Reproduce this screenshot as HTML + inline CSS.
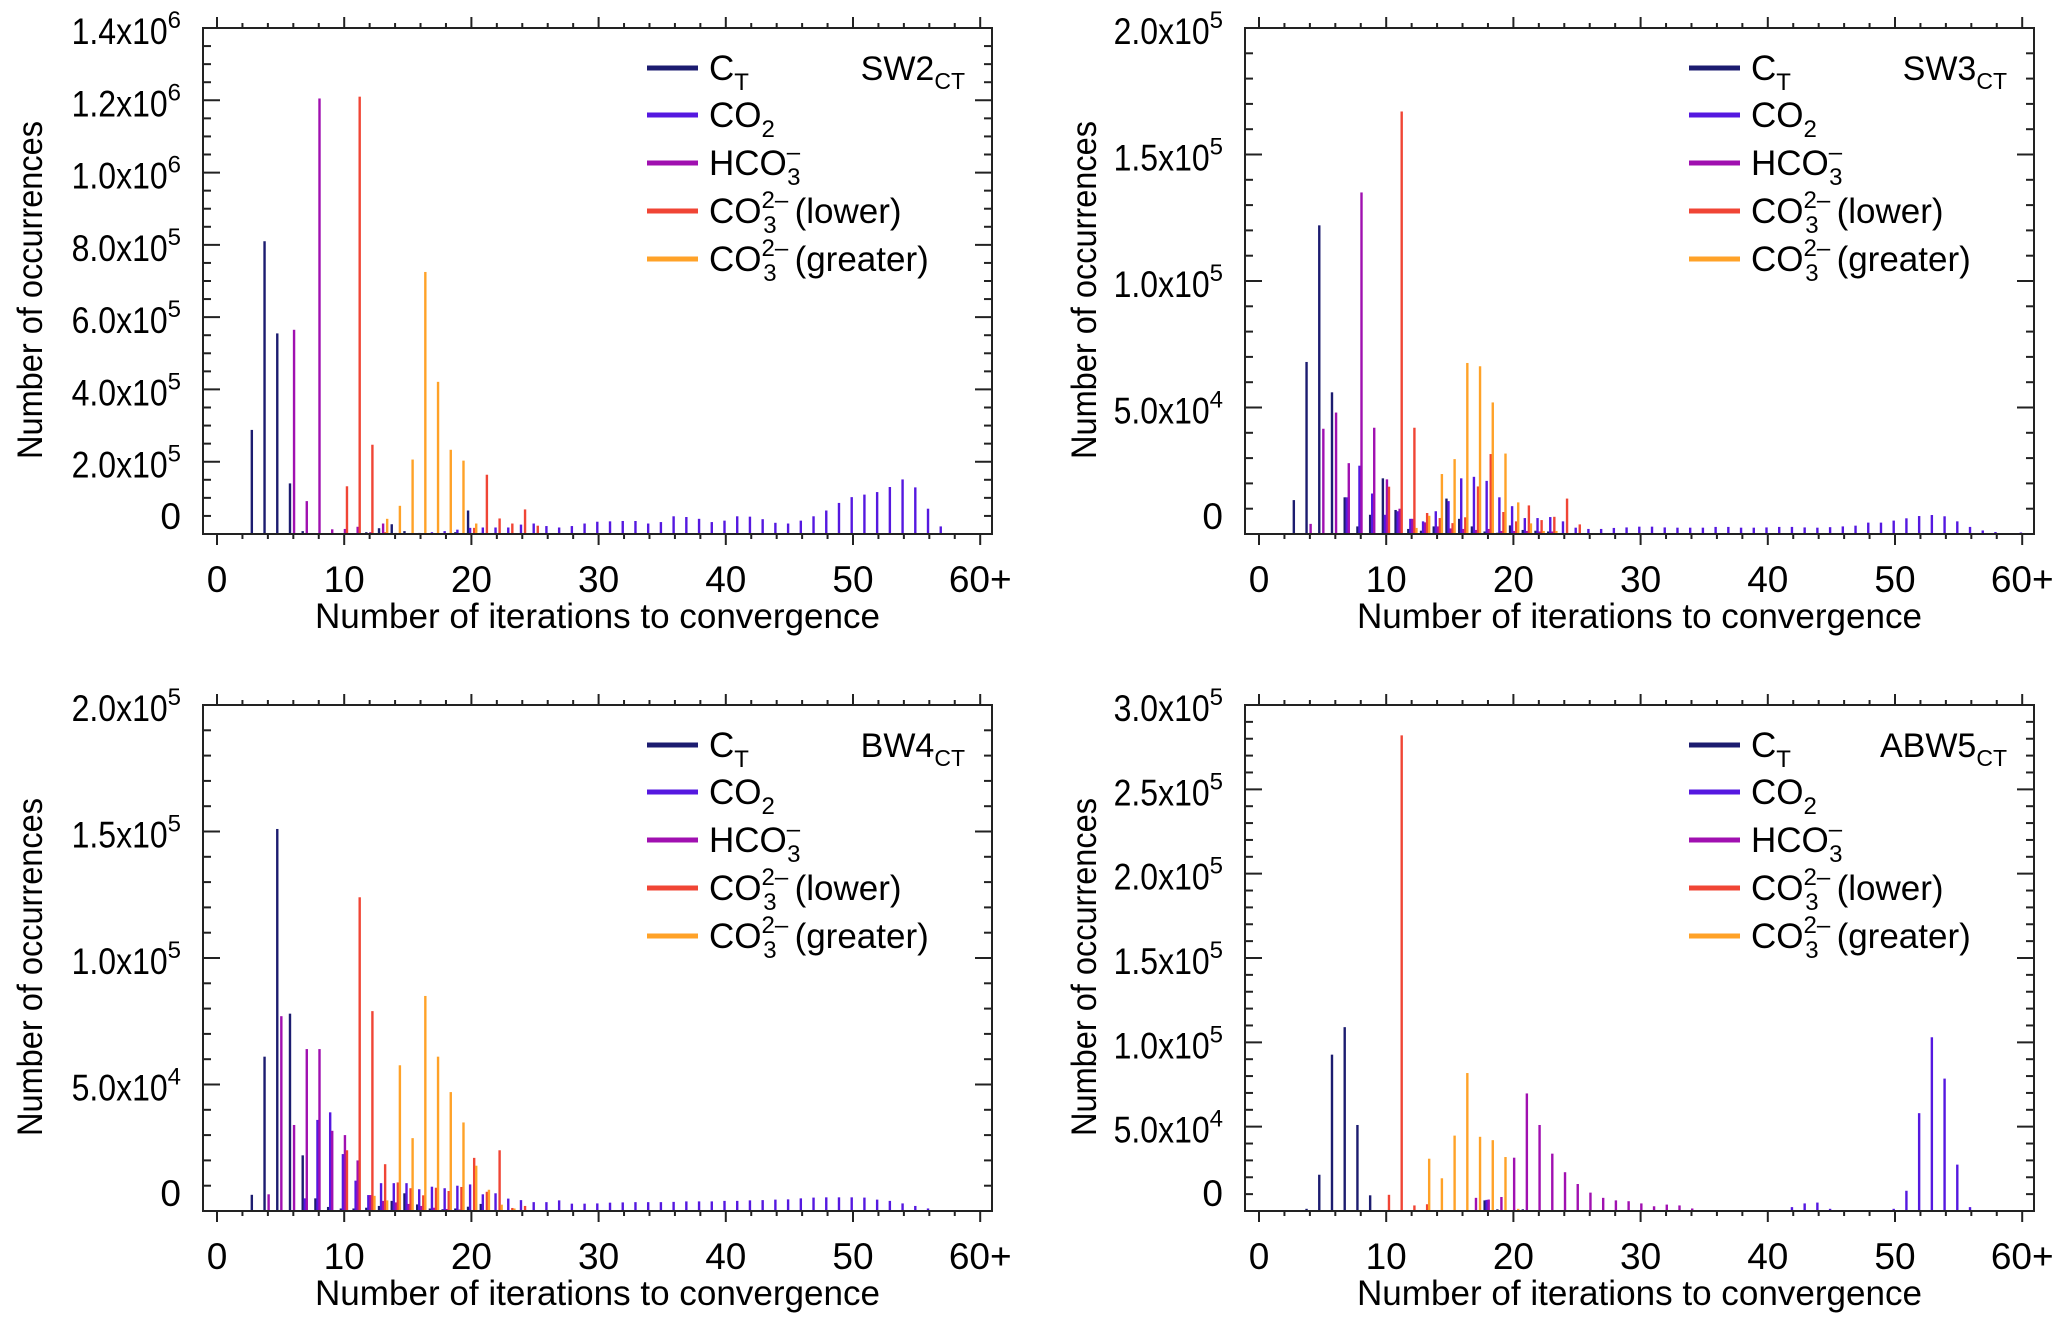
<!DOCTYPE html>
<html><head><meta charset="utf-8"><style>
html,body{margin:0;padding:0;background:#fff;}
svg{display:block;font-family:"Liberation Sans",Arial,sans-serif;}
</style></head><body>
<svg id="fig" width="2067" height="1329" viewBox="0 0 2067 1329" xmlns="http://www.w3.org/2000/svg"></svg>
<script>
// ---- data (values in thousands of occurrences, index = iterations) ----
const sw2_ct = [0,0,0,288,810, 555,140,8,0,0, 0,0,5,16,27, 8,0,0,0,5, 65,3];
const sw2_co2 = [0,0,0,0,0, 0,0,0,0,0, 0,0,0,0,0, 2,3,5,8,12, 17,18,18,18,26, 29,22,18,22,29, 34,35,36,36,29, 33,49,47,42,33, 37,49,48,41,31, 29,37,49,65,86, 102,109,116,130,151, 129,70,21,2];
const sw2_hco3 = [0,0,0,0,0, 0,565,91,1205,13, 14,20,5,29,3];
const sw2_red = [0,0,0,0,0, 0,0,0,0,0, 132,1210,247,5,0, 0,0,0,0,0, 17,164,43,29,68, 23];
const sw2_orange = [0,0,0,0,0, 0,0,0,0,0, 0,0,0,42,78, 206,725,421,233,203, 29];

const sw3_ct = [0,0,0,13.4,68, 122,56,14.5,3,7.6, 22,9.5,2,1.3,3, 14,6,3,1,0.5, 3.4,1.6,1.3,1];
const sw3_co2 = [0,0,0,0,0, 0,0,14.5,27,16, 7.6,9,6,5,9, 13,22,22.6,21,14.5, 11,6.3,6.3,6.7,5, 2.5,2,2,2.4,2.6, 2.9,2.9,2.6,2.5,2.5, 2.5,2.8,2.8,2.5,2.5, 2.6,2.8,2.8,2.6,2.5, 2.7,3,3.3,4.5,4.5, 5.3,6.2,7.1,7.5,7, 5,2.8,1.4,0.8,0.3, 0.6];
const sw3_hco3 = [0,0,0,0,4, 41.6,48,28,135,42, 21.6,10,6,4.6,3, 2.2,2,1.6,2,1.2, 1.2,1.2,1,1];
const sw3_red = [0,0,0,0,0, 0,0,0,0,0, 18.7,167,42,8.3,6.3, 4.3,6.6,18.8,31.6,8.7, 5,11.3,5.5,6.8,14, 3.8];
const sw3_orange = [0,0,0,0,0, 0,0,0,0,0, 0,0,2.4,7.2,23.7, 29.6,67.6,66.3,52,31.8, 12.5,4.2,1.2,1.2];

const bw4_ct = [0,0,0,6.4,61, 151,78,22,5,1.6, 1,1,1.3,2,4, 7,2.6,1,0.7,1, 1.7,2.8,0.2];
const bw4_co2 = [0,0,0,0,0, 0,0,5,36,39, 22.5,12,6.3,11,11, 11,8.6,9.6,9,10, 10.5,6.6,7,4.9,4.3, 3.5,3.5,4.2,2.9,2.9, 3,3.3,3.4,3.5,3.5, 3.5,3.6,3.8,3.8,3.8, 4,4,4.2,4.3,4.5, 4.6,5,5.3,5.4,5.4, 5.4,5.3,4.5,4,3, 2,1];
const bw4_hco3 = [0,0,0,0,6.6, 77,34,64,64,31.7, 30,20,6.3,4,3.4, 2.8,2,1.3,0.8,0.6, 0.4,0.4,0.4];
const bw4_red = [0,0,0,0,0, 0,0,0,0,0, 24,124,79,18.5,11.3, 9,6.2,9.2,7.9,9.5, 21,7.6,24,1.2,2];
const bw4_orange = [0,0,0,0,0, 0,0,0,0,0, 0,0,6,4.2,57.6, 28.8,85,61,47,35, 17.9,8.4,2.5,1];

const abw5_ct = [0,0,0,0,1.3, 21.5,92.7,109,51,9.3, 0,0,0,0,0, 0,0,0,6.3,1, 0,1];
const abw5_co2 = [0,0,0,0,0, 0,0,0,0,0, 0,0,0,0,0, 0,0,0,6.6,0, 0,0,0,0,0, 0,0,0,0,0, 0,0,0,0,0, 0,0,0,0,0, 0,0.5,2.3,4.5,5, 1.3,0,0,0,0, 1.3,12,58,103,78.5, 27.5,2.3];
const abw5_hco3 = [0,0,0,0,0, 0,0,0,0,0, 0,0,0,0,0, 0,0,7.8,6.8,8.3, 31.6,69.7,51,34,23, 16,10.9,7.8,6.3,5.8, 4.5,2.8,3.8,3.3,1.5];
const abw5_red = [0,0,0,0,0, 0,0,0,0,0, 9.6,282,3.3,4];
const abw5_orange = [0,0,0,0,0, 0,0,0,0,0, 0,0,0,31,19.4, 44.7,81.8,44,42,32, 1.3];

const xTickLabels = ["0","10","20","30","40","50","60+"];
const seriesNames = ["C_T","CO2","HCO3","CO3 lower","CO3 greater"];
const seriesColors = ["#1c1c70","#5518e0","#a010b0","#f04535","#ffa228"];
const seriesOffsets = [-0.27,-0.11,0.05,0.21,0.37];

const yLabels1 = [["0",""],["2.0x10","5"],["4.0x10","5"],["6.0x10","5"],["8.0x10","5"],["1.0x10","6"],["1.2x10","6"],["1.4x10","6"]];
const yLabels2 = [["0",""],["5.0x10","4"],["1.0x10","5"],["1.5x10","5"],["2.0x10","5"]];
const yLabels4 = [["0",""],["5.0x10","4"],["1.0x10","5"],["1.5x10","5"],["2.0x10","5"],["2.5x10","5"],["3.0x10","5"]];

const panels = [
  {name:"sw2", title:"SW2", L:203, T:28, ymax:1400, ymaj:200, ymin:50, ylab:yLabels1, series:[sw2_ct,sw2_co2,sw2_hco3,sw2_red,sw2_orange]},
  {name:"sw3", title:"SW3", L:1245, T:28, ymax:200, ymaj:50, ymin:10, ylab:yLabels2, series:[sw3_ct,sw3_co2,sw3_hco3,sw3_red,sw3_orange]},
  {name:"bw4", title:"BW4", L:203, T:705, ymax:200, ymaj:50, ymin:10, ylab:yLabels2, series:[bw4_ct,bw4_co2,bw4_hco3,bw4_red,bw4_orange]},
  {name:"abw5", title:"ABW5", L:1245, T:705, ymax:300, ymaj:50, ymin:10, ylab:yLabels4, series:[abw5_ct,abw5_co2,abw5_hco3,abw5_red,abw5_orange]}
];

const NS = "http://www.w3.org/2000/svg";
const svg = document.getElementById("fig");
function mk(tag, attrs, parent){
  const e = document.createElementNS(NS, tag);
  for (const k in attrs) e.setAttribute(k, attrs[k]);
  (parent||svg).appendChild(e);
  return e;
}
const W = 789, H = 506, AX = "#222";

panels.forEach(p => {
  const g = mk("g", {});
  
  
  const L = p.L, T = p.T, R = L + W, B = T + H;
  const xs = v => L + 14 + v * 12.72;
  const ys = v => B - v / p.ymax * H;

  p.series.forEach((arr, si) => {
    arr.forEach((v, n) => {
      if (v <= 0) return;
      const x = xs(n + seriesOffsets[si]);
      const r = mk("rect", {x:(x-1.1).toFixed(2), y:ys(v).toFixed(2), width:2.4, height:(B-ys(v)).toFixed(2), fill:seriesColors[si]}, g);
      
      
    });
  });

  const fr = mk("rect", {x:L, y:T, width:W, height:H, fill:"none", stroke:AX, "stroke-width":2}, g);
  
  

  for (let v = 0; v <= 60; v += 2) {
    const len = (v % 10 === 0) ? 11 : 5;
    mk("line", {x1:xs(v), x2:xs(v), y1:B, y2:B+len, stroke:AX, "stroke-width":2}, g);
    mk("line", {x1:xs(v), x2:xs(v), y1:T, y2:T-len, stroke:AX, "stroke-width":2}, g);
  }
  xTickLabels.forEach((t, i) => {
    const tx = mk("text", {x:xs(i*10), y:B+58, "font-size":37, "text-anchor":"middle", fill:"#000"}, g);
    tx.textContent = t;
    
    
  });
  for (let v = 0; v <= p.ymax + 0.001; v += p.ymin) {
    const maj = Math.abs(v / p.ymaj - Math.round(v / p.ymaj)) < 1e-6;
    const len = maj ? 17 : 8;
    mk("line", {x1:L, x2:L+len, y1:ys(v), y2:ys(v), stroke:AX, "stroke-width":2}, g);
    mk("line", {x1:R, x2:R-len, y1:ys(v), y2:ys(v), stroke:AX, "stroke-width":2}, g);
  }
  p.ylab.forEach((lb, i) => {
    const yy = i === 0 ? ys(0) - 5 : ys(i * p.ymaj) + 16;
    const tx = mk("text", {x:L-22, y:yy, "font-size":37, "text-anchor":"end", fill:"#000"}, g);
    
    
    if (lb[1]) {
      const m = mk("tspan", {textLength:96, lengthAdjust:"spacingAndGlyphs"}, tx);
      m.textContent = lb[0];
      const s = mk("tspan", {dy:-16, "font-size":24}, tx);
      s.textContent = lb[1];
    } else {
      tx.textContent = lb[0];
    }
  });

  const xt = mk("text", {x:(L+R)/2, y:B+94, "font-size":35, "text-anchor":"middle", fill:"#000", textLength:565, lengthAdjust:"spacingAndGlyphs"}, g);
  xt.textContent = "Number of iterations to convergence";
  
  
  const ycx = L - (p.L > 1000 ? 161 : 173), ycy = T + 262;
  const yt = mk("text", {x:ycx, y:ycy, "font-size":35, "text-anchor":"middle", fill:"#000", transform:`rotate(-90 ${ycx} ${ycy})`, dy:12, textLength:338, lengthAdjust:"spacingAndGlyphs"}, g);
  yt.textContent = "Number of occurrences";
  
  

  const pl = mk("text", {x:L+762, y:T+52, "font-size":34, "text-anchor":"end", fill:"#000"}, g);
  
  
  pl.appendChild(document.createTextNode(p.title));
  const ps = mk("tspan", {dy:9, "font-size":23}, pl);
  ps.textContent = "CT";

  const rows = [40, 87, 135, 183, 231];
  const lg = mk("g", {}, g);
  
  
  rows.forEach((ry, i) => {
    const y = T + ry;
    const ln = mk("rect", {x:L+444, y:y-2.5, width:51, height:5, fill:seriesColors[i]}, lg);
    
    
    const t = mk("text", {x:L+506, y:y+12, "font-size":35, fill:"#000"}, lg);
    
    
    const sub = (txt) => { const s = mk("tspan", {dy:10, "font-size":24}, t); s.textContent = txt; return s; };
    if (i === 0) { t.appendChild(document.createTextNode("C")); sub("T"); }
    else if (i === 1) { t.appendChild(document.createTextNode("CO")); sub("2"); }
    else if (i === 2) {
      t.appendChild(document.createTextNode("HCO"));
      const a = mk("tspan", {dy:-15, "font-size":24}, t); a.textContent = "\u2013";
      const b = mk("tspan", {dx:-13, dy:25, "font-size":24}, t); b.textContent = "3";
    } else {
      t.appendChild(document.createTextNode("CO"));
      const a = mk("tspan", {dy:-15, "font-size":24}, t); a.textContent = "2\u2013";
      const b = mk("tspan", {dx:-25, dy:25, "font-size":24}, t); b.textContent = "3";
      const c = mk("tspan", {dx:18, dy:-10}, t); c.textContent = i === 3 ? "(lower)" : "(greater)";
    }
  });
});
</script>
</body></html>
